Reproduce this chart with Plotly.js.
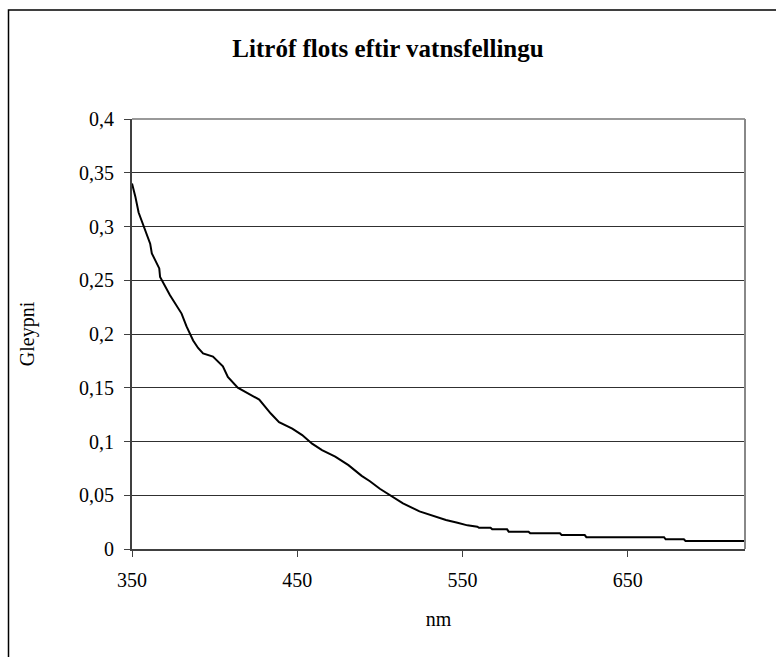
<!DOCTYPE html>
<html>
<head>
<meta charset="utf-8">
<script src="https://cdn.plot.ly/plotly-3.0.1.min.js"></script>
<style>
html,body{margin:0;padding:0;background:#fff;}
#chart{width:776px;height:657px;}
</style>
</head>
<body>
<div id="chart"></div>
<script>
// Wavelength (nm) and absorbance (Gleypni)
const wavelength = [350, 352, 354, 357, 361, 362, 366.5, 367, 373, 380, 383, 387, 390, 393, 399, 405, 408, 414, 419, 427, 434, 439, 447, 453, 459, 465, 473, 481, 489, 494, 500, 506, 514, 524, 530, 540, 547, 553, 559, 560, 567, 568, 577, 578, 590, 591, 609, 610, 624, 625, 672, 673, 684, 685, 721];
const gleypni    = [0.340, 0.328, 0.313, 0.300, 0.284, 0.275, 0.261, 0.253, 0.236, 0.219, 0.207, 0.194, 0.187, 0.182, 0.179, 0.170, 0.160, 0.150, 0.146, 0.139, 0.126, 0.118, 0.112, 0.106, 0.098, 0.092, 0.086, 0.078, 0.068, 0.063, 0.056, 0.050, 0.0425, 0.035, 0.032, 0.027, 0.0245, 0.022, 0.0208, 0.0198, 0.0198, 0.0183, 0.0183, 0.0161, 0.0161, 0.0146, 0.0146, 0.013, 0.013, 0.011, 0.011, 0.009, 0.009, 0.0074, 0.0074];
const xTicks = [350, 450, 550, 650];
const yTicks = [0, 0.05, 0.1, 0.15, 0.2, 0.25, 0.3, 0.35, 0.4];
const titleText = "Litróf flots eftir vatnsfellingu";
const xTitle = "nm";
const yTitle = "Gleypni";

const font = "Liberation Serif, Times New Roman, serif";

const trace = {
  x: wavelength,
  y: gleypni,
  type: "scatter",
  mode: "lines",
  line: {color: "#000", width: 2},
  hoverinfo: "x+y"
};

const layout = {
  width: 776,
  height: 657,
  margin: {l: 132, r: 31, t: 119, b: 108, pad: 0},
  paper_bgcolor: "#fff",
  plot_bgcolor: "#fff",
  separators: ",.",
  showlegend: false,
  font: {family: font, color: "#000", size: 20},
  title: {
    text: "<b>" + titleText + "</b>",
    font: {family: font, size: 25, color: "#000"},
    x: 388/776, xref: "container", xanchor: "center",
    y: 1 - 48/657, yref: "container", yanchor: "middle"
  },
  xaxis: {
    range: [350, 721],
    tickvals: xTicks,
    ticktext: xTicks.map(String),
    ticks: "outside", ticklen: 6, tickwidth: 1, tickcolor: "#404040",
    showline: true, linecolor: "#404040", linewidth: 2,
    showgrid: false, zeroline: false,
    tickfont: {family: font, size: 20, color: "#000"},
    ticklabelstandoff: 6,
    title: {text: xTitle, font: {family: font, size: 20, color: "#000"}, standoff: 22},
    fixedrange: true
  },
  yaxis: {
    range: [0, 0.4],
    tickvals: yTicks,
    ticks: "outside", ticklen: 6, tickwidth: 1, tickcolor: "#404040",
    showline: true, linecolor: "#404040", linewidth: 2,
    showgrid: true, gridcolor: "#303030", gridwidth: 1,
    zeroline: false,
    tickfont: {family: font, size: 20, color: "#000"},
    ticklabelstandoff: 6,
    title: {text: yTitle, font: {family: font, size: 20, color: "#000"}, standoff: 39},
    fixedrange: true
  },
  shapes: [
    {type: "line", xref: "paper", yref: "paper", x0: 0, x1: 1, y0: 1, y1: 1, line: {color: "#999", width: 2}},
    {type: "line", xref: "paper", yref: "paper", x0: 1, x1: 1, y0: 0, y1: 1, line: {color: "#888", width: 2}},
    {type: "rect", xref: "paper", yref: "paper", x0: (8.5-132)/613, x1: 1.2, y0: -0.4, y1: (549-10)/430, line: {color: "#000", width: 1.5}, layer: "below"}
  ]
};

Plotly.newPlot("chart", [trace], layout, {displayModeBar: false, staticPlot: true});
</script>
</body>
</html>
